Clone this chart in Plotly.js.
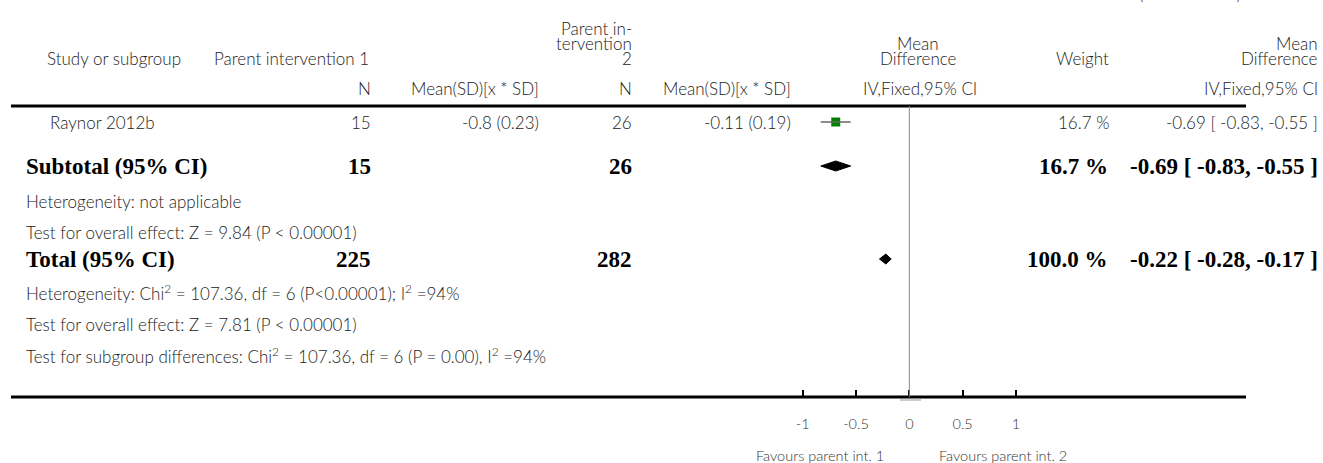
<!DOCTYPE html>
<html>
<head>
<meta charset="utf-8">
<script src="https://cdn.plot.ly/plotly-3.0.1.min.js"></script>
<style>html,body{margin:0;padding:0;background:#fff;}#chart{width:1323px;height:463px;}</style>
</head>
<body>
<div id="chart"></div>
<script>
// ---------------- data ----------------
const studyNames = ['Raynor 2012b'];
const studyN1 = [15];
const studyMean1 = [-0.8];
const studySD1 = [0.23];
const studyN2 = [26];
const studyMean2 = [-0.11];
const studySD2 = [0.19];
const studyWeight = [16.7];
const studyMD = [-0.69];
const studyLo = [-0.83];
const studyHi = [-0.55];

const pooledLabels = ['Subtotal (95% CI)', 'Total (95% CI)'];
const pooledN1 = [15, 225];
const pooledN2 = [26, 282];
const pooledWeight = [16.7, 100.0];
const pooledMD = [-0.69, -0.22];
const pooledLo = [-0.83, -0.28];
const pooledHi = [-0.55, -0.17];

const statLines = [
  'Heterogeneity: not applicable',
  'Test for overall effect: Z = 9.84 (P < 0.00001)',
  'Heterogeneity: Chi<sup>2</sup> = 107.36, df = 6 (P<0.00001); I<sup>2</sup> =94%',
  'Test for overall effect: Z = 7.81 (P < 0.00001)',
  'Test for subgroup differences: Chi<sup>2</sup> = 107.36, df = 6 (P = 0.00), I<sup>2</sup> =94%'
];

const tickVals = [-1, -0.5, 0, 0.5, 1];
const tickLabels = ['-1', '-0.5', '0', '0.5', '1'];
const favoursLeft = 'Favours parent int. 1';
const favoursRight = 'Favours parent int. 2';

// ---------------- layout helpers ----------------
const W = 1323, H = 463;
const px = v => v / W;
const rowStudy = [122];
const rowPooled = [166, 259];
const rowStats = [201, 232, 292, 324, 355];
const lineTopY = 106, axisY = 397;
const diamondHalf = 5;

const fNorm = {family: 'Lato, "Open Sans", sans-serif', size: 17, color: '#222', weight: 300};
const fSmall = {family: 'Lato, "Open Sans", sans-serif', size: 14.5, color: '#333', weight: 300};
const fBold = {family: '"Liberation Serif", "DejaVu Serif", serif', size: 23, color: '#000', weight: 'bold'};

const ann = [];
function t(text, x, y, anchor, font) {
  ann.push({text: text, xref: 'paper', yref: 'y', x: px(x), y: y, xanchor: anchor, yanchor: 'middle',
            showarrow: false, font: font, borderpad: 0});
}
const fmt = v => String(v);
const ci = (m, l, h) => m.toFixed(2) + ' [ ' + l.toFixed(2) + ', ' + h.toFixed(2) + ' ]';

// header (partly cut-off continuation note at the very top)
ann.push({text: '(Continued ...)', xref: 'paper', yref: 'paper', x: px(1242), y: (H + 6) / H,
  xanchor: 'right', yanchor: 'middle', showarrow: false, font: fNorm, borderpad: 0});
t('Parent in-', 633, 28, 'right', fNorm);
t('tervention', 633, 43, 'right', fNorm);
t('2', 633, 58, 'right', fNorm);
t('Study or subgroup', 46, 58, 'left', fNorm);
t('Parent intervention 1', 370, 58, 'right', fNorm);
t('Mean', 918, 43, 'center', fNorm);
t('Difference', 918, 58, 'center', fNorm);
t('Weight', 1110, 58, 'right', fNorm);
t('Mean', 1319, 43, 'right', fNorm);
t('Difference', 1319, 58, 'right', fNorm);
t('N', 372, 88, 'right', fNorm);
t('Mean(SD)[x * SD]', 540, 88, 'right', fNorm);
t('N', 633, 88, 'right', fNorm);
t('Mean(SD)[x * SD]', 792, 88, 'right', fNorm);
t('IV,Fixed,95% CI', 920, 88, 'center', fNorm);
t('IV,Fixed,95% CI', 1319, 88, 'right', fNorm);

// study rows
studyNames.forEach((nm, i) => {
  const y = rowStudy[i];
  t(nm, 49, y, 'left', fNorm);
  t(fmt(studyN1[i]), 372, y, 'right', fNorm);
  t(fmt(studyMean1[i]) + ' (' + fmt(studySD1[i]) + ')', 540, y, 'right', fNorm);
  t(fmt(studyN2[i]), 633, y, 'right', fNorm);
  t(fmt(studyMean2[i]) + ' (' + fmt(studySD2[i]) + ')', 792, y, 'right', fNorm);
  t(studyWeight[i].toFixed(1) + ' %', 1110, y, 'right', fNorm);
  t(ci(studyMD[i], studyLo[i], studyHi[i]), 1319, y, 'right', fNorm);
});

// pooled rows
pooledLabels.forEach((lb, i) => {
  const y = rowPooled[i];
  t(lb, 25, y, 'left', fBold);
  t(fmt(pooledN1[i]), 372, y, 'right', fBold);
  t(fmt(pooledN2[i]), 633, y, 'right', fBold);
  t(pooledWeight[i].toFixed(1) + ' %', 1109, y, 'right', fBold);
  t(ci(pooledMD[i], pooledLo[i], pooledHi[i]), 1319, y, 'right', fBold);
});

statLines.forEach((s, i) => t(s, 25, rowStats[i], 'left', fNorm));

t(favoursLeft, 885, 455, 'right', fSmall);
t(favoursRight, 938, 455, 'left', fSmall);

// ---------------- traces ----------------
const traces = [];
studyNames.forEach((nm, i) => {
  traces.push({x: [studyMD[i]], y: [rowStudy[i]], mode: 'markers', type: 'scatter',
    marker: {symbol: 'square', size: 9, color: '#008000'}, hoverinfo: 'skip'});
  traces.push({x: [studyLo[i], studyHi[i]], y: [rowStudy[i], rowStudy[i]], mode: 'lines', type: 'scatter',
    line: {color: '#666', width: 1.5}, hoverinfo: 'skip'});
});
pooledLabels.forEach((lb, i) => {
  const y = rowPooled[i];
  traces.push({x: [pooledLo[i], pooledMD[i], pooledHi[i], pooledMD[i], pooledLo[i]],
    y: [y, y - diamondHalf, y, y + diamondHalf, y], mode: 'lines', type: 'scatter', fill: 'toself',
    fillcolor: '#000', line: {color: '#000', width: 1}, hoverinfo: 'skip'});
});

const x0 = 909.33, unit = 106.67;
const layout = {
  width: W, height: H, margin: {l: 0, r: 0, t: 0, b: 0}, showlegend: false,
  paper_bgcolor: '#fff', plot_bgcolor: '#fff',
  xaxis: {range: [-2, 2], domain: [px(x0 - 2 * unit), px(x0 + 2 * unit)], anchor: 'free',
    position: (H - axisY) / H, showgrid: false, zeroline: false, showline: false,
    tickmode: 'array', tickvals: tickVals, ticktext: tickLabels, ticks: 'inside', ticklen: 7,
    tickwidth: 2, tickcolor: '#000', ticklabelstandoff: 16, tickfont: fSmall, fixedrange: true},
  yaxis: {range: [H, 0], domain: [0, 1], visible: false, fixedrange: true},
  shapes: [
    {type: 'line', xref: 'paper', yref: 'y', x0: px(11), x1: px(1246), y0: lineTopY, y1: lineTopY,
      line: {color: '#000', width: 3}},
    {type: 'line', xref: 'paper', yref: 'y', x0: px(11), x1: px(1246), y0: axisY, y1: axisY,
      line: {color: '#000', width: 3}},
    {type: 'line', xref: 'x', yref: 'y', x0: 0, x1: 0, y0: lineTopY, y1: axisY,
      line: {color: '#8a8a8a', width: 1}},
    {type: 'line', xref: 'paper', yref: 'y', x0: px(900), x1: px(921), y0: axisY + 3, y1: axisY + 3,
      line: {color: '#bbb', width: 1.5}}
  ],
  annotations: ann
};

Plotly.newPlot('chart', traces, layout, {staticPlot: true, displayModeBar: false});
</script>
</body>
</html>
